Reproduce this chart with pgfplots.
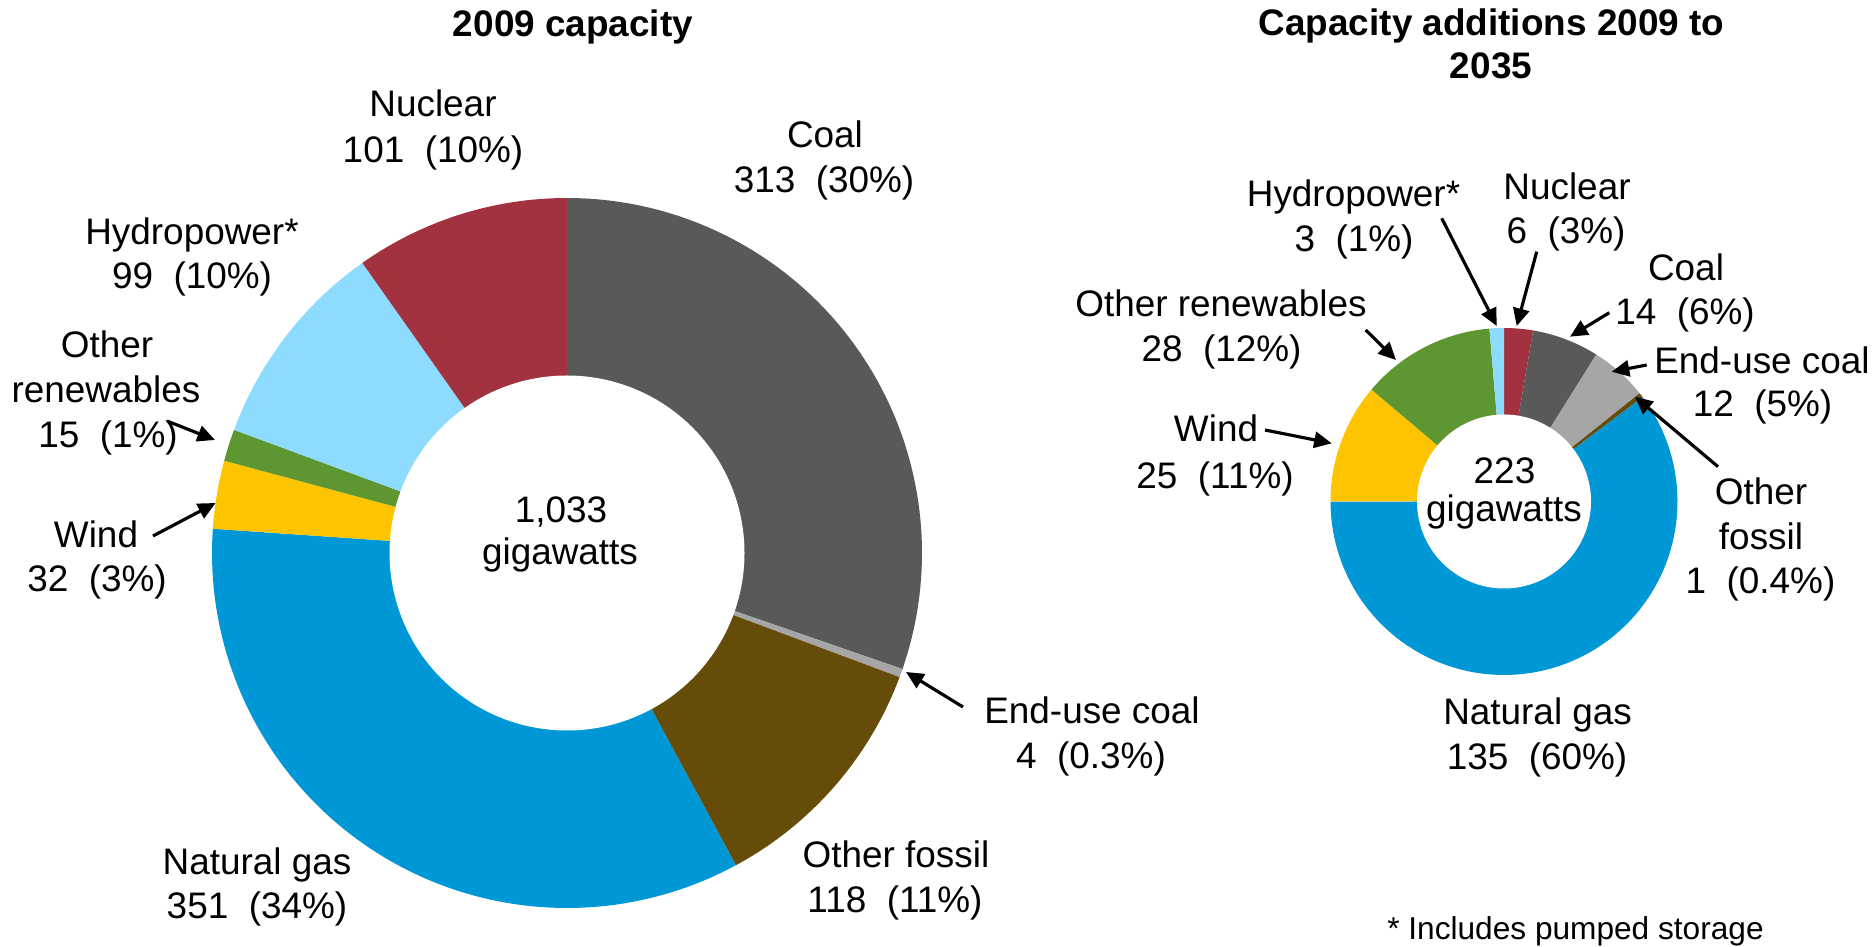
\documentclass[border=0pt]{standalone}
\usepackage{pgfplots}
\pgfplotsset{compat=1.18}
\usepackage{fontspec}
\setmainfont{Liberation Sans}
\usetikzlibrary{arrows.meta}
\definecolor{cCoal}{HTML}{595959}
\definecolor{cEnd}{HTML}{A6A6A6}
\definecolor{cFos}{HTML}{654C09}
\definecolor{cGas}{HTML}{0097D7}
\definecolor{cWind}{HTML}{FFC400}
\definecolor{cRen}{HTML}{5E9732}
\definecolor{cHyd}{HTML}{8DDBFF}
\definecolor{cNuc}{HTML}{A2323F}

\newcommand\lbl{\fontsize{10.5}{12}\selectfont}
\newcommand\ttl{\fontsize{10.5}{12}\selectfont\bfseries}
\newcommand\lab[3]{\node[anchor=base, inner sep=0pt, font=\lbl] at (axis cs:#1,#2) {#3};}
\newcommand\tlab[3]{\node[anchor=base, inner sep=0pt, font=\ttl] at (axis cs:#1,#2) {#3};}
\newcommand\arr[4]{\draw[line width=0.9pt, -{Triangle[length=5pt,width=4.6pt]}] (axis cs:#1,#2) -- (axis cs:#3,#4);}

% one slice: colour, value (uses \cx,\cy,\R,\total,\cum)
\newcommand\slice[2]{%
  \pgfmathsetmacro\angA{90-\cum*(360/\total)}%
  \pgfmathsetmacro\cumnew{\cum+#2}%
  \pgfmathsetmacro\angB{90-\cumnew*(360/\total)}%
  \xdef\cum{\cumnew}%
  \edef\doplot{\noexpand\addplot[fill=#1, draw=none, domain=\angB:\angA, samples=90]
     ({\cx+\R*cos(x)},{\cy-\R*sin(x)}) -- (axis cs:\cx,\cy) -- cycle;}%
  \doplot
}
\newcommand\hole[3]{%
  \addplot[fill=white, draw=none, domain=0:360, samples=241]
     ({#1+#3*cos(x)},{#2-#3*sin(x)}) -- cycle;}

\begin{document}
\begin{tikzpicture}
\begin{axis}[
  scale only axis, width=18.76cm, height=9.47cm,
  xmin=0, xmax=1876, ymin=0, ymax=947, y dir=reverse,
  hide axis, clip=false]
\path (rel axis cs:0,0) rectangle (rel axis cs:1,1);

% ---------- 2009 capacity (GW), clockwise from top ----------
\def\cx{567}\def\cy{553}\def\R{355}\def\total{1033}\xdef\cum{0}
\slice{cCoal}{313}
\slice{cEnd}{4}
\slice{cFos}{118}
\slice{cGas}{351}
\slice{cWind}{32}
\slice{cRen}{15}
\slice{cHyd}{99}
\slice{cNuc}{101}
\hole{567}{553}{177.5}

% ---------- Capacity additions 2009 to 2035 (GW) ----------
\def\cx{1504}\def\cy{501.5}\def\R{173.5}\def\total{224}\xdef\cum{0}
\slice{cNuc}{6}
\slice{cCoal}{14}
\slice{cEnd}{12}
\slice{cFos}{1}
\slice{cGas}{135}
\slice{cWind}{25}
\slice{cRen}{28}
\slice{cHyd}{3}
\hole{1504}{501.5}{87}

% ---------- titles ----------
\tlab{573}{36.5}{2009 capacity}
\tlab{1491.5}{36}{Capacity additions 2009 to}
\tlab{1491}{79}{2035}

% ---------- left labels ----------
\lab{433}{116.8}{Nuclear}
\lab{433}{162.5}{101~~(10\%)}
\lab{825}{148}{Coal}
\lab{824}{193}{313~~(30\%)}
\lab{192}{244.6}{Hydropower*}
\lab{192}{289}{99~~(10\%)}
\lab{107}{358}{Other}
\lab{106}{403}{renewables}
\lab{108}{448}{15~~(1\%)}
\lab{96}{548}{Wind}
\lab{97}{592}{32~~(3\%)}
\lab{561}{523}{1,033}
\lab{560}{565}{gigawatts}
\lab{257}{874.4}{Natural gas}
\lab{257}{918}{351~~(34\%)}
\lab{896}{867.4}{Other fossil}
\lab{895}{912.7}{118~~(11\%)}
\lab{1092}{723}{End-use coal}
\lab{1091}{768}{4~~(0.3\%)}

\arr{963}{707}{906}{672}
\arr{167}{421}{215}{440}
\arr{153}{536}{215.6}{503}

% ---------- right labels ----------
\lab{1353.5}{206.7}{Hydropower*}
\lab{1354}{251.7}{3~~(1\%)}
\lab{1567}{200}{Nuclear}
\lab{1566}{244}{6~~(3\%)}
\lab{1686}{280.7}{Coal}
\lab{1685}{325}{14~~(6\%)}
\lab{1762}{374}{End-use coal}
\lab{1762.5}{416.7}{12~~(5\%)}
\lab{1221}{316.7}{Other renewables}
\lab{1221.5}{361.7}{28~~(12\%)}
\lab{1216}{442}{Wind}
\lab{1215}{489}{25~~(11\%)}
\lab{1504.5}{483.3}{223}
\lab{1504}{521.7}{gigawatts}
\lab{1761}{504.6}{Other}
\lab{1761}{550}{fossil}
\lab{1760.5}{593.6}{1~~(0.4\%)}
\lab{1537.6}{724.4}{Natural gas}
\lab{1537}{769.7}{135~~(60\%)}
\node[anchor=base, inner sep=0pt, font=\fontsize{9}{11}\selectfont] at (axis cs:1575.5,939) {* Includes pumped storage};

\arr{1441.7}{218.3}{1496.7}{326}
\arr{1536.7}{251.7}{1516.7}{326}
\arr{1609.3}{312.7}{1570}{336.7}
\arr{1646.7}{365}{1611.7}{371.7}
\arr{1718}{466.7}{1635}{396.7}
\arr{1265}{430}{1331.7}{443.3}
\arr{1365.7}{330}{1396}{360}
\end{axis}
\end{tikzpicture}
\end{document}
